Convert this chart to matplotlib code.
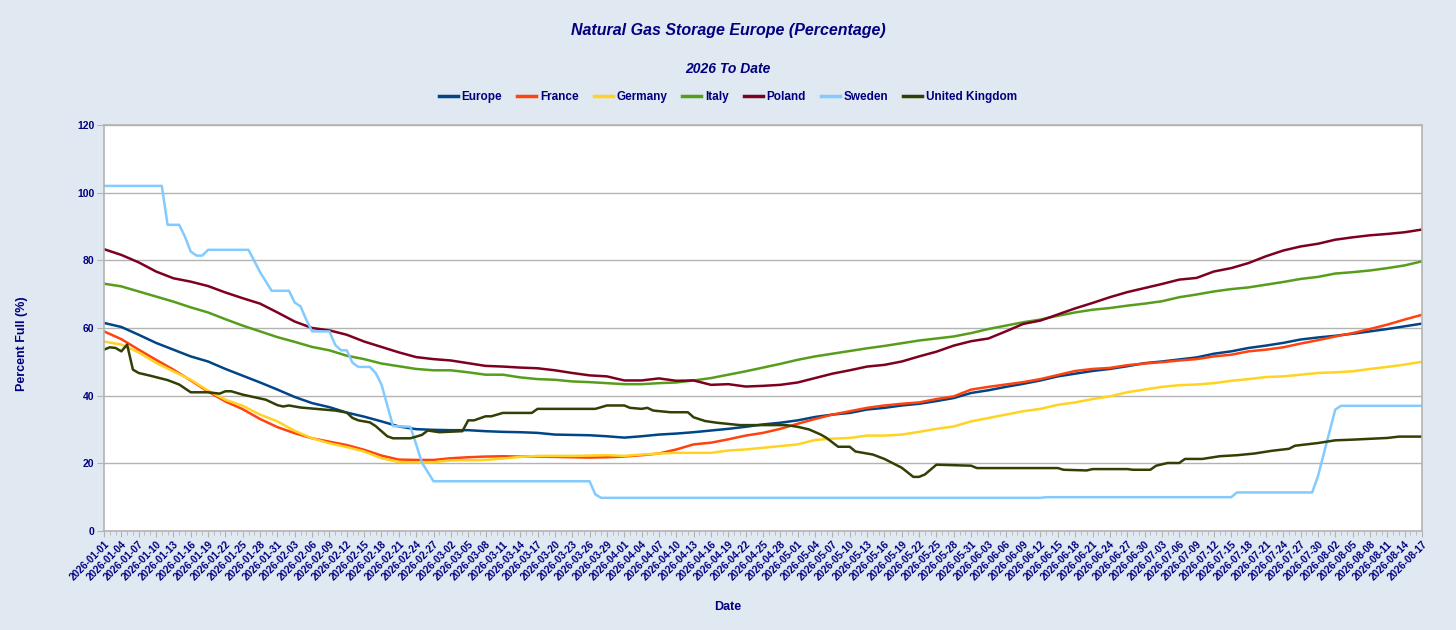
import pandas as pd
import matplotlib
matplotlib.use("Agg")
import matplotlib.pyplot as plt
import matplotlib.dates as mdates

START = "2026-01-01"
END = "2026-08-17"

# ---------- DATA (percent full, read every third day) ----------
europe = [61.5, 60.3, 58.0, 55.6, 53.6, 51.6, 50.1, 47.9, 45.9, 43.9, 41.8, 39.6, 37.8, 36.6, 35.0, 33.8,
          32.4, 30.9, 30.1, 29.9, 29.8, 29.8, 29.5, 29.3, 29.2, 29.0, 28.5, 28.4, 28.3, 28.0, 27.6, 28.0,
          28.5, 28.8, 29.2, 29.7, 30.2, 30.8, 31.5, 32.0, 32.7, 33.7, 34.4, 34.9, 35.9, 36.4, 37.1, 37.6,
          38.4, 39.3, 40.8, 41.6, 42.6, 43.5, 44.5, 45.7, 46.5, 47.3, 47.9, 48.7, 49.6, 50.1, 50.7, 51.3,
          52.4, 53.1, 54.1, 54.8, 55.6, 56.6, 57.2, 57.7, 58.3, 59.0, 59.7, 60.5, 61.3]
france = [59.0, 56.7, 53.6, 50.6, 47.7, 44.5, 41.2, 38.3, 36.0, 33.1, 30.7, 28.9, 27.4, 26.4, 25.4, 24.0,
          22.3, 21.1, 21.0, 21.0, 21.5, 21.8, 22.0, 22.1, 22.0, 22.0, 21.9, 21.8, 21.7, 21.8, 22.0, 22.4,
          22.9, 24.1, 25.6, 26.1, 27.1, 28.2, 29.0, 30.2, 31.7, 33.1, 34.4, 35.4, 36.4, 37.1, 37.6, 38.0,
          39.0, 39.8, 41.8, 42.6, 43.3, 44.0, 44.9, 46.1, 47.3, 47.9, 48.2, 49.0, 49.5, 49.9, 50.4, 50.8,
          51.6, 52.1, 53.1, 53.6, 54.3, 55.4, 56.4, 57.5, 58.5, 59.7, 61.0, 62.5, 63.9]
germany = [56.0, 55.1, 52.8, 49.7, 47.2, 44.7, 41.5, 38.8, 37.0, 34.4, 32.4, 29.6, 27.4, 25.9, 24.8, 23.5,
           21.5, 20.4, 20.3, 20.3, 20.9, 20.9, 21.0, 21.4, 21.9, 22.2, 22.2, 22.2, 22.3, 22.4, 22.2, 22.6,
           22.9, 23.1, 23.1, 23.1, 23.8, 24.1, 24.6, 25.1, 25.6, 26.9, 27.3, 27.5, 28.2, 28.2, 28.5, 29.3,
           30.2, 30.9, 32.4, 33.4, 34.4, 35.4, 36.1, 37.3, 38.0, 39.0, 39.8, 41.0, 41.8, 42.6, 43.1, 43.3,
           43.7, 44.4, 44.9, 45.5, 45.7, 46.2, 46.7, 46.9, 47.2, 47.9, 48.5, 49.2, 50.0]
italy = [73.1, 72.3, 70.8, 69.3, 67.8, 66.1, 64.6, 62.6, 60.7, 59.0, 57.3, 55.9, 54.4, 53.4, 51.8, 50.8,
         49.5, 48.7, 47.9, 47.5, 47.5, 46.9, 46.2, 46.2, 45.4, 44.9, 44.7, 44.2, 44.0, 43.7, 43.4, 43.4,
         43.7, 43.9, 44.5, 45.2, 46.2, 47.2, 48.3, 49.4, 50.6, 51.6, 52.4, 53.2, 54.0, 54.7, 55.5, 56.3,
         56.9, 57.5, 58.5, 59.7, 60.7, 61.7, 62.5, 63.6, 64.6, 65.4, 65.9, 66.6, 67.2, 67.9, 69.1, 69.9,
         70.8, 71.5, 72.0, 72.8, 73.6, 74.5, 75.1, 76.1, 76.5, 77.0, 77.7, 78.5, 79.7]
poland = [83.3, 81.6, 79.4, 76.7, 74.7, 73.7, 72.4, 70.5, 68.8, 67.2, 64.6, 61.9, 60.0, 59.3, 58.0, 56.0,
          54.4, 52.8, 51.4, 50.8, 50.4, 49.6, 48.8, 48.6, 48.3, 48.1, 47.5, 46.7, 46.0, 45.7, 44.5, 44.5,
          45.1, 44.4, 44.5, 43.2, 43.4, 42.7, 42.9, 43.2, 43.9, 45.2, 46.5, 47.5, 48.6, 49.1, 50.1, 51.6,
          53.0, 54.8, 56.1, 56.9, 59.0, 61.2, 62.2, 64.0, 65.8, 67.4, 69.1, 70.6, 71.8, 73.0, 74.3, 74.8,
          76.7, 77.7, 79.2, 81.2, 82.9, 84.1, 84.9, 86.1, 86.8, 87.4, 87.8, 88.3, 89.1]

# Sweden and UK move in steps, so they are read at the days where they change (days after 1 Jan)
sweden_days = [0, 10, 11, 13, 14, 15, 16, 17, 18, 25, 27, 29, 32, 33, 34, 35, 36, 39, 40, 41, 42, 43,
               44, 46, 47, 48, 50, 53, 54, 55, 57, 84, 85, 86, 162, 163, 195, 196, 209, 210, 213, 214, 228]
sweden = [102, 102, 90.5, 90.5, 87, 82.6, 81.4, 81.4, 83.1, 83.1, 76.5, 71, 71, 67.5, 66.4, 62.4, 59, 59,
          55, 53.4, 53.4, 49.7, 48.5, 48.5, 46.7, 43.3, 31, 30.8, 25.6, 20.2, 14.7, 14.7, 10.8, 9.8, 9.8,
          10, 10, 11.4, 11.4, 16.2, 35.9, 37, 37]
uk_days = [0, 1, 2, 3, 4, 5, 6, 8, 11, 13, 15, 18, 20, 21, 22, 24, 28, 30, 31, 32, 34, 40, 42, 43, 44,
           46, 47, 49, 50, 53, 55, 56, 58, 62, 63, 64, 66, 67, 69, 74, 75, 85, 87, 90, 91, 93, 94, 95,
           98, 101, 102, 104, 106, 110, 118, 120, 122, 124, 125, 127, 129, 130, 133, 135, 138, 140, 141,
           142, 144, 150, 151, 165, 166, 170, 171, 177, 178, 181, 182, 184, 186, 187, 190, 193, 196,
           199, 202, 205, 206, 210, 213, 216, 222, 224, 228]
uk = [53.6, 54.3, 54.1, 53.1, 55.1, 47.7, 46.7, 45.9, 44.6, 43.3, 41.0, 41.0, 40.6, 41.3, 41.3, 40.3,
      38.8, 37.2, 36.8, 37.1, 36.5, 35.6, 35.0, 33.4, 32.7, 32.1, 31.0, 28.0, 27.4, 27.4, 28.4, 29.7,
      29.2, 29.5, 32.7, 32.7, 33.9, 33.9, 34.9, 34.9, 36.1, 36.1, 37.1, 37.1, 36.4, 36.1, 36.4, 35.6,
      35.1, 35.1, 33.6, 32.5, 32.0, 31.3, 31.3, 30.8, 30.0, 28.5, 27.5, 24.9, 24.9, 23.5, 22.6, 21.3,
      18.7, 16.0, 16.0, 16.7, 19.6, 19.3, 18.6, 18.6, 18.1, 17.9, 18.3, 18.3, 18.1, 18.1, 19.3, 20.1,
      20.1, 21.3, 21.3, 22.1, 22.4, 22.9, 23.7, 24.3, 25.2, 26.0, 26.8, 27.0, 27.5, 27.9, 27.9]

series = [("Europe", europe, "#004586"), ("France", france, "#ff420e"), ("Germany", germany, "#ffd320"),
          ("Italy", italy, "#579d1c"), ("Poland", poland, "#7e0021")]

NAVY = "#000080"
BG = "#e0e8f1"

dates_3d = pd.date_range(START, END, freq="3D")
start = pd.Timestamp(START)
sweden_dates = start + pd.to_timedelta(sweden_days, unit="D")
uk_dates = start + pd.to_timedelta(uk_days, unit="D")

plt.rcParams["font.family"] = ["Liberation Sans", "DejaVu Sans"]

fig = plt.figure(figsize=(14.56, 6.30), dpi=100, facecolor=BG)
ax = fig.add_axes([104 / 1456, 1 - 531 / 630, (1422 - 104) / 1456, (531 - 125) / 630])
ax.set_facecolor("white")

for name, vals, col in series:
    ax.plot(dates_3d, vals, color=col, lw=1.8, label=name)
ax.plot(sweden_dates, sweden, color="#83caff", lw=1.8, label="Sweden")
ax.plot(uk_dates, uk, color="#314004", lw=1.8, label="United Kingdom")

ax.set_ylim(0, 120)
ax.set_yticks(range(0, 121, 20))
ax.set_xlim(start, pd.Timestamp(END))
ax.set_xticks(dates_3d)
ax.set_xticklabels([d.strftime("%Y-%m-%d") for d in dates_3d], rotation=45, ha="right",
                   rotation_mode="anchor", fontsize=7.2, fontweight="bold", color=NAVY)
ax.xaxis.set_minor_locator(mdates.DayLocator())
for lab in ax.get_yticklabels():
    lab.set_fontweight("bold")
ax.tick_params(axis="y", labelsize=7.5, labelcolor=NAVY, color="#b3b3b3", length=5, pad=2)
ax.tick_params(axis="x", which="major", color="#b3b3b3", length=4, pad=2)
ax.tick_params(axis="x", which="minor", color="#b3b3b3", length=3)

ax.grid(axis="y", color="#b3b3b3", lw=1)
ax.set_axisbelow(True)
for side in ax.spines.values():
    side.set_color("#b3b3b3")
    side.set_linewidth(1.2)

fig.text(0.5, 1 - 30 / 630, "Natural Gas Storage Europe (Percentage)", ha="center", va="center",
         fontsize=11.5, fontweight="bold", fontstyle="italic", color=NAVY)
fig.text(0.5, 1 - 69 / 630, "2026 To Date", ha="center", va="center",
         fontsize=10, fontweight="bold", fontstyle="italic", color=NAVY)
fig.text(22 / 1456, 1 - 344 / 630, "Percent Full (%)", rotation=90, ha="center", va="center",
         fontsize=9, fontweight="bold", color=NAVY)
fig.text(0.5, 1 - 607 / 630, "Date", ha="center", va="center",
         fontsize=9, fontweight="bold", color=NAVY)

leg = fig.legend(loc="center", bbox_to_anchor=(0.5, 1 - 97 / 630), ncol=7, frameon=False,
                 fontsize=8.5, handlelength=1.6, handletextpad=0.3, columnspacing=1.3)
for t in leg.get_texts():
    t.set_color(NAVY)
    t.set_fontweight("bold")
for h in leg.get_lines():
    h.set_linewidth(2.5)

fig.savefig("out.png", dpi=100, facecolor=BG)
